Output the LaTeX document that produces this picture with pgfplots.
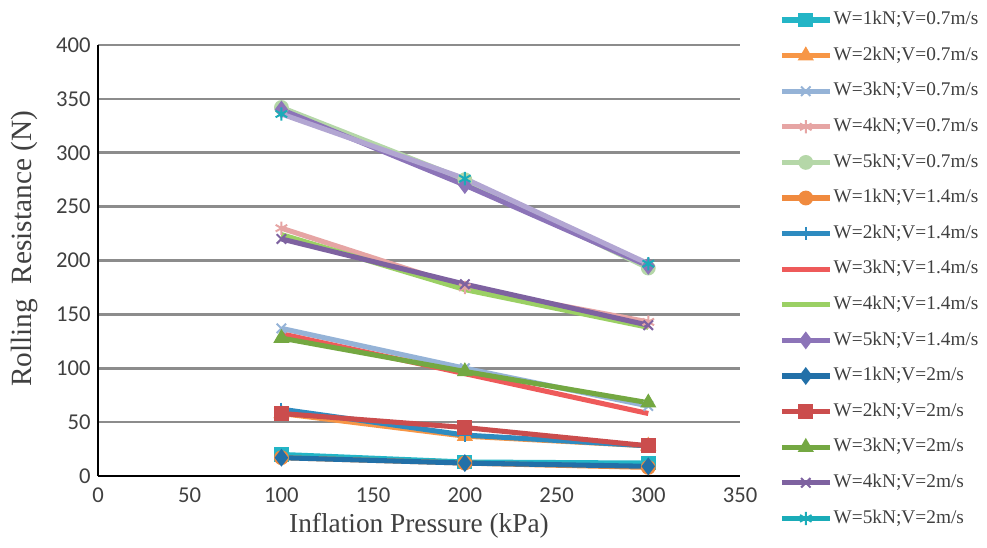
\documentclass[border=0pt]{standalone}
\usepackage{fontspec}
\setmainfont{Liberation Serif}
\newfontfamily\calibri{Carlito}
\usepackage{pgfplots}
\pgfplotsset{compat=1.18}

\definecolor{cA}{HTML}{23B5C6}
\definecolor{cB}{HTML}{F79646}
\definecolor{cC}{HTML}{95B3D7}
\definecolor{cD}{HTML}{E6A5A4}
\definecolor{cE}{HTML}{B5D7A8}
\definecolor{cF}{HTML}{F08A3E}
\definecolor{cG}{HTML}{2E8BC0}
\definecolor{cH}{HTML}{EE5A5A}
\definecolor{cI}{HTML}{9BD064}
\definecolor{cJ}{HTML}{8C74B8}
\definecolor{cK}{HTML}{2270A8}
\definecolor{cL}{HTML}{CB4D4D}
\definecolor{cM}{HTML}{74A842}
\definecolor{cN}{HTML}{7E62A0}
\definecolor{cO}{HTML}{1AACB8}
\definecolor{lav}{HTML}{B2A6D2}
\definecolor{txt}{HTML}{404040}

\begin{document}
\begin{tikzpicture}[x=1pt,y=1pt]
\useasboundingbox (-73.5,-53.25) rectangle (666.75,357);
\begin{axis}[
    scale only axis,
    width=481.5pt, height=323.25pt,
    xmin=0, xmax=350, ymin=0, ymax=400,
    xtick={0,50,...,350}, ytick={0,50,...,400},
    axis lines*=left,
    axis line style={black, line width=1.8pt, -},
    ymajorgrids,
    grid style={color=black!45, line width=2pt},
    major tick length=0pt,
    /pgf/number format/assume math mode=true,
    tick label style={font=\calibri\fontsize{17}{17}\selectfont, text=txt},
    xticklabel style={yshift=-5pt},
    yticklabel style={xshift=-2pt},
    xlabel={Inflation Pressure (kPa)},
    ylabel={Rolling\ \ Resistance (N)},
    label style={text=txt},
    xlabel style={font=\fontsize{20.5}{20.5}\selectfont, at={(axis description cs:0.5,-0.116)}, anchor=center},
    ylabel style={font=\fontsize{22}{22}\selectfont, at={(axis description cs:-0.114,0.527)}, anchor=center, rotate=0},
    every axis plot/.append style={line width=3.8pt, mark options={solid, line width=1.5pt}},
    legend image code/.code={\draw[mark repeat=2, mark phase=2, #1] plot coordinates {(0pt,0pt) (18pt,0pt) (36pt,0pt)};},
    legend cell align=left,
    legend style={at={(1.0545,1.088)}, anchor=north west, draw=none, fill=none,
        font=\fontsize{14.5}{15}\selectfont, text=txt, row sep=11.7pt,
        nodes={inner sep=1pt, text height=10pt, text depth=3pt}},
    clip=false,
]
\addplot[color=cA, mark=square*, mark size=4.8pt] coordinates {(100,20) (200,13) (300,12)};
\addplot[color=cB, mark=triangle*, mark size=5.5pt] coordinates {(100,58) (200,37) (300,28)};
\addplot[color=cC, mark=x, mark size=5pt] coordinates {(100,137) (200,100) (300,65)};
\addplot[color=cD, mark=asterisk, mark size=5pt] coordinates {(100,230) (200,175) (300,143)};
\addplot[color=cE, mark=*, mark size=4.8pt] coordinates {(100,342) (200,275) (300,193)};
\addplot[color=cF, mark=*, mark size=4.8pt] coordinates {(100,17) (200,12) (300,8)};
\addplot[color=cG, mark=+, mark size=5pt] coordinates {(100,62) (200,38) (300,28)};
\addplot[color=cH, mark=none] coordinates {(100,132) (200,95) (300,58)};
\addplot[color=cI, mark=none] coordinates {(100,224) (200,173) (300,138)};
\addplot[color=cJ, mark=diamond*, mark size=5.5pt] coordinates {(100,340) (200,270) (300,195)};
\addplot[color=cK, mark=diamond*, mark size=5.5pt] coordinates {(100,17) (200,12) (300,9)};
\addplot[color=cL, mark=square*, mark size=4.8pt] coordinates {(100,58) (200,45) (300,28)};
\addplot[color=cM, mark=triangle*, mark size=5.5pt] coordinates {(100,128) (200,97) (300,68)};
\addplot[color=cN, mark=x, mark size=5pt] coordinates {(100,220) (200,178) (300,140)};
% the top line shows light lavender over the teal stars in the reference
\addplot[forget plot, color=lav, mark=asterisk, mark size=5pt, mark options={solid, line width=1.5pt, draw=cO}] coordinates {(100,336) (200,276) (300,197)};
\addlegendimage{color=cO, line width=3.8pt, mark=asterisk, mark size=5pt, mark options={solid, line width=1.5pt}}
\legend{
    W=1kN;V=0.7m/s,
    W=2kN;V=0.7m/s,
    W=3kN;V=0.7m/s,
    W=4kN;V=0.7m/s,
    W=5kN;V=0.7m/s,
    W=1kN;V=1.4m/s,
    W=2kN;V=1.4m/s,
    W=3kN;V=1.4m/s,
    W=4kN;V=1.4m/s,
    W=5kN;V=1.4m/s,
    W=1kN;V=2m/s,
    W=2kN;V=2m/s,
    W=3kN;V=2m/s,
    W=4kN;V=2m/s,
    W=5kN;V=2m/s
}
\end{axis}
\end{tikzpicture}
\end{document}
